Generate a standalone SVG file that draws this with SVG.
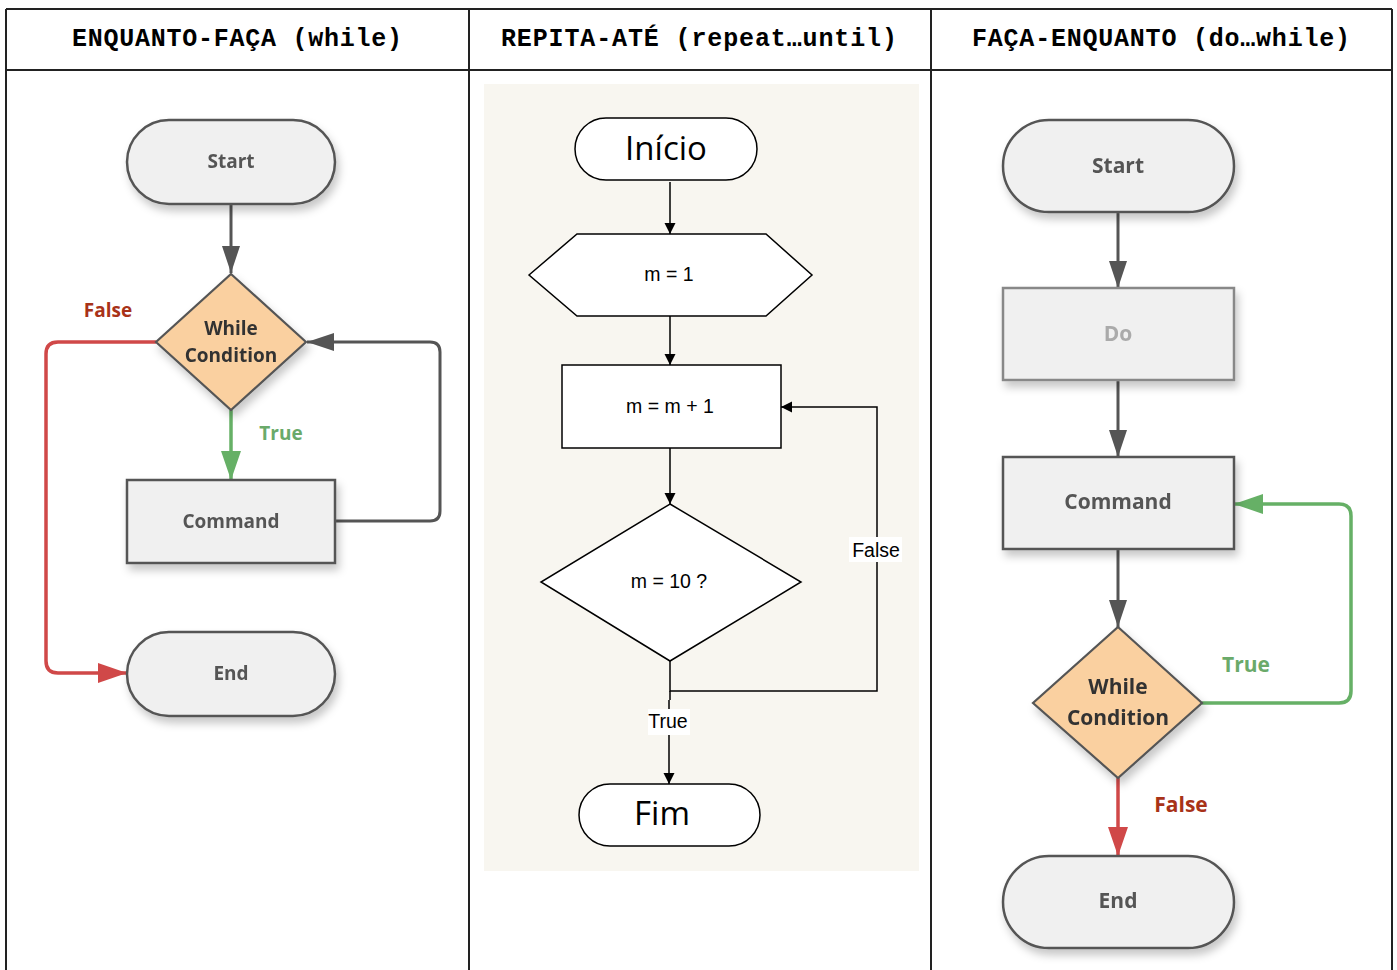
<svg xmlns="http://www.w3.org/2000/svg" width="1397" height="970" viewBox="0 0 1397 970">
<style>
.hdr{font-family:"Liberation Mono","Courier New",monospace;font-weight:bold;font-size:25px;fill:#000;text-anchor:middle}
.lbl{font-family:"Open Sans","Noto Sans",sans-serif;font-weight:bold;text-anchor:middle}
.c1{font-size:19px;fill:#555}
.c3{font-size:21px;fill:#555}
.dark{fill:#333}
.term{fill:#f0f0f0;stroke:#555;stroke-width:2.5}
.box{fill:#f0f0f0;stroke:#555;stroke-width:2.5}
.dia{fill:#fad0a0;stroke:#555;stroke-width:2.2}
.gl{fill:none;stroke:#555;stroke-width:3}
.rl{fill:none;stroke:#d04848;stroke-width:3.5}
.grl{fill:none;stroke:#66b066;stroke-width:3.5}
.red{fill:#a83218}
.grn{fill:#6aaa6a}
.s2{fill:#fff;stroke:#000;stroke-width:1.5}
.bl{fill:none;stroke:#000;stroke-width:1.5}
.ar{font-family:"Liberation Sans",Arial,sans-serif;font-size:19.5px;fill:#000;text-anchor:middle}
.big{font-family:"Open Sans","Noto Sans",sans-serif;font-size:33px;fill:#000;text-anchor:middle}
.grid{fill:none;stroke:#222;stroke-width:2}
</style>
<defs>
<filter id="sh" x="-20%" y="-20%" width="150%" height="160%">
<feDropShadow dx="3" dy="6" stdDeviation="4" flood-color="#000" flood-opacity="0.22"/>
</filter>
<marker id="mg" markerUnits="userSpaceOnUse" markerWidth="28" markerHeight="20" refX="27" refY="9" orient="auto">
<path d="M0,0 L27,9 L0,18 z" fill="#555"/>
</marker>
<marker id="mr" markerUnits="userSpaceOnUse" markerWidth="30" markerHeight="22" refX="29" refY="10" orient="auto">
<path d="M0,0 L29,10 L0,20 z" fill="#d04848"/>
</marker>
<marker id="mgr" markerUnits="userSpaceOnUse" markerWidth="30" markerHeight="22" refX="29" refY="10" orient="auto">
<path d="M0,0 L29,10 L0,20 z" fill="#66b066"/>
</marker>
<marker id="mb" markerUnits="userSpaceOnUse" markerWidth="12" markerHeight="12" refX="11" refY="5.5" orient="auto">
<path d="M0,0 L11,5.5 L0,11 z" fill="#000"/>
</marker>
</defs>

<rect width="1397" height="970" fill="#fff"/>

<g id="table">
<line class="grid" x1="6" y1="9" x2="1392" y2="9"/>
<line class="grid" x1="6" y1="70" x2="1392" y2="70"/>
<line class="grid" x1="6" y1="9" x2="6" y2="970"/>
<line class="grid" x1="469" y1="9" x2="469" y2="970"/>
<line class="grid" x1="931" y1="9" x2="931" y2="970"/>
<line class="grid" x1="1392" y1="9" x2="1392" y2="970"/>
<text class="hdr" x="237" y="46" textLength="330" lengthAdjust="spacing">ENQUANTO-FAÇA (while)</text>
<text class="hdr" x="699" y="46" textLength="396" lengthAdjust="spacing">REPITA-ATÉ (repeat…until)</text>
<text class="hdr" x="1161" y="46" textLength="378" lengthAdjust="spacing">FAÇA-ENQUANTO (do…while)</text>
</g>

<rect id="panel" x="484" y="84" width="435" height="787" fill="#f8f6f0"/>

<g id="connectors">
<line class="gl" x1="231" y1="204" x2="231" y2="273" marker-end="url(#mg)"/>
<line class="grl" x1="231" y1="410" x2="231" y2="480" marker-end="url(#mgr)"/>
<path class="gl" d="M335,521 H430 Q440,521 440,511 V352 Q440,342 430,342 H307" marker-end="url(#mg)"/>
<path class="rl" d="M156,342 H58 Q46,342 46,354 V661 Q46,673 58,673 H127" marker-end="url(#mr)"/>
<line class="bl" x1="670" y1="182" x2="670" y2="234" marker-end="url(#mb)"/>
<line class="bl" x1="670" y1="316" x2="670" y2="365" marker-end="url(#mb)"/>
<line class="bl" x1="670" y1="448" x2="670" y2="504" marker-end="url(#mb)"/>
<path class="bl" d="M670,661 V691 H877 V407 H781" marker-end="url(#mb)"/>
<path class="bl" d="M670,691 V700 M669,700 V784" marker-end="url(#mb)"/>
<line class="gl" x1="1118" y1="212" x2="1118" y2="288" marker-end="url(#mg)"/>
<line class="gl" x1="1118" y1="380" x2="1118" y2="457" marker-end="url(#mg)"/>
<line class="gl" x1="1118" y1="549" x2="1118" y2="627" marker-end="url(#mg)"/>
<path class="grl" d="M1202,703 H1339 Q1351,703 1351,691 V516 Q1351,504 1339,504 H1234" marker-end="url(#mgr)"/>
<line class="rl" x1="1118" y1="778" x2="1118" y2="856" marker-end="url(#mr)"/>
<text class="lbl c1 red" x="108" y="317">False</text>
<text class="lbl c1 grn" x="281" y="440">True</text>
<rect x="849" y="537" width="53" height="25" fill="#fff"/>
<text class="ar" x="876" y="557">False</text>
<rect x="648" y="709" width="42" height="26" fill="#fff"/>
<text class="ar" x="668" y="728">True</text>
<text class="lbl c3 grn" x="1246" y="672">True</text>
<text class="lbl c3 red" x="1181" y="812">False</text>
</g>

<g id="c1-start" filter="url(#sh)">
<rect class="term" x="127" y="120" width="208" height="84" rx="42"/>
<text class="lbl c1" x="231" y="168">Start</text>
</g>
<g id="c1-cond" filter="url(#sh)">
<polygon class="dia" points="231,274 306,342 231,410 156,342"/>
<text class="lbl c1 dark" x="231" y="335">While</text>
<text class="lbl c1 dark" x="231" y="362">Condition</text>
</g>
<g id="c1-command" filter="url(#sh)">
<rect class="box" x="127" y="480" width="208" height="83"/>
<text class="lbl c1" x="231" y="528">Command</text>
</g>
<g id="c1-end" filter="url(#sh)">
<rect class="term" x="127" y="632" width="208" height="84" rx="42"/>
<text class="lbl c1" x="231" y="680">End</text>
</g>

<g id="c2-inicio">
<rect class="s2" x="575" y="118" width="182" height="62" rx="31"/>
<text class="big" x="666" y="160">Início</text>
</g>
<g id="c2-init">
<polygon class="s2" points="529,275 577,234 766,234 812,275 766,316 577,316"/>
<text class="ar" x="669" y="281">m = 1</text>
</g>
<g id="c2-inc">
<rect class="s2" x="562" y="365" width="219" height="83"/>
<text class="ar" x="670" y="413">m = m + 1</text>
</g>
<g id="c2-cond">
<polygon class="s2" points="670,504 801,582 670,661 541,582"/>
<text class="ar" x="669" y="588">m = 10 ?</text>
</g>
<g id="c2-fim">
<rect class="s2" x="579" y="784" width="181" height="62" rx="31"/>
<text class="big" x="662" y="825">Fim</text>
</g>

<g id="c3-start" filter="url(#sh)">
<rect class="term" x="1003" y="120" width="231" height="92" rx="46"/>
<text class="lbl c3" x="1118" y="173">Start</text>
</g>
<g id="c3-do" filter="url(#sh)">
<rect x="1003" y="288" width="231" height="92" fill="#f0f0f0" stroke="#888" stroke-width="2.5"/>
<text class="lbl c3" x="1118" y="341" style="fill:#aaa">Do</text>
</g>
<g id="c3-command" filter="url(#sh)">
<rect class="box" x="1003" y="457" width="231" height="92"/>
<text class="lbl c3" x="1118" y="509">Command</text>
</g>
<g id="c3-cond" filter="url(#sh)">
<polygon class="dia" points="1118,627 1202,703 1118,778 1033,703"/>
<text class="lbl c3 dark" x="1118" y="694">While</text>
<text class="lbl c3 dark" x="1118" y="725">Condition</text>
</g>
<g id="c3-end" filter="url(#sh)">
<rect class="term" x="1003" y="856" width="231" height="92" rx="46"/>
<text class="lbl c3" x="1118" y="908">End</text>
</g>
</svg>
